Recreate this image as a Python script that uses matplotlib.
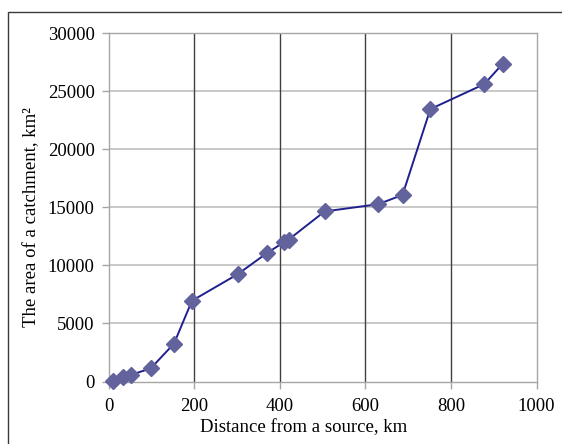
import matplotlib
matplotlib.use("Agg")
import matplotlib.pyplot as plt
from matplotlib.patches import Rectangle

distance_km = [10, 33, 52, 99, 153, 195, 302, 370, 409, 421, 505, 630, 687, 752, 878, 921]
area_km2 = [60, 360, 560, 1140, 3260, 6950, 9240, 11050, 11970, 12220, 14640, 15260, 16060, 23450, 25600, 27350]

x_ticks = [0, 200, 400, 600, 800, 1000]
y_ticks = [0, 5000, 10000, 15000, 20000, 25000, 30000]

plt.rcParams['font.family'] = ['Liberation Serif', 'DejaVu Serif']

W, H = 562, 444
fig = plt.figure(figsize=(W / 100, H / 100), dpi=100)
ax = fig.add_axes([108.5 / W, 62.5 / H, 428 / W, 348.5 / H])

# figure frame (cut off at right and bottom)
fig.patches.append(Rectangle((8 / W, -0.1), 1.2, (444 - 12) / H + 0.1, transform=fig.transFigure,
                             fill=False, edgecolor='#3a3a3a', linewidth=1.0))

ax.set_xlim(0, 1000)
ax.set_ylim(0, 30000)
ax.set_xticks(x_ticks)
ax.set_yticks(y_ticks)
ax.set_xticklabels([str(v) for v in x_ticks])
ax.set_yticklabels([str(v) for v in y_ticks])

for v in y_ticks[1:]:
    ax.axhline(v, color='#bfbfbf', linewidth=1.2, zorder=1)
for v in x_ticks[1:-1]:
    ax.axvline(v, color='#404040', linewidth=1.0, zorder=1)

for s in ax.spines.values():
    s.set_color('#a6a6a6')
    s.set_linewidth(1.0)

ax.tick_params(axis='both', direction='out', length=5, width=1, color='#a6a6a6',
               labelsize=13.5, labelcolor='black')
ax.tick_params(axis='x', pad=7)
ax.tick_params(axis='y', pad=5)

ax.plot(distance_km, area_km2, color='#1f1f8f', linewidth=1.4, marker='D',
        markersize=8, markerfacecolor='#62629c', markeredgecolor='#62629c', zorder=3,
        clip_on=False)

fig.text(304 / W, 1 - 428 / H, 'Distance from a source, km', fontsize=13.5,
         ha='center', va='center')
fig.text(32 / W, 1 - 217.5 / H, 'The area of a catchment, km²', fontsize=13.5,
         ha='center', va='center', rotation=90)

fig.savefig('out.png', dpi=100)
